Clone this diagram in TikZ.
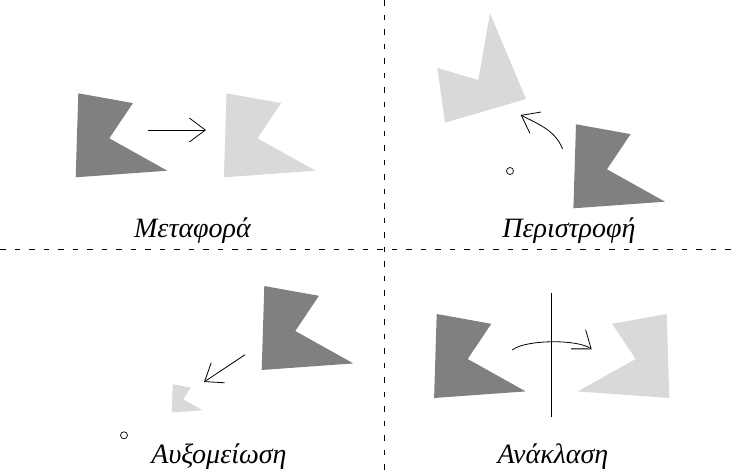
\documentclass[tikz,border=0pt]{standalone}
\usepackage{fontspec}
\setmainfont{Liberation Serif}
\usetikzlibrary{arrows.meta}
\definecolor{dkgray}{gray}{0.5}
\definecolor{ltgray}{gray}{0.85}
\begin{document}
\begin{tikzpicture}[x=1pt,y=-1pt,
  dkshape/.style={fill=dkgray},
  ltshape/.style={fill=ltgray},
  sep/.style={line width=0.8pt, dash pattern=on 5.5pt off 9pt},
  arr/.style={line width=0.8pt, -{Straight Barb[length=16pt,width=24pt,line width=0.8pt]}},
  lbl/.style={anchor=base, inner sep=0pt, font=\fontsize{28}{32}\selectfont\itshape},
  ctr/.style={circle, draw, line width=0.7pt, minimum size=7pt, inner sep=0pt}]
\useasboundingbox (0,0) rectangle (734,474);
\def\kpath{(0,0) -- (54.6,9.8) -- (31,45) -- (89,77.4) -- (-2.6,84) -- cycle}
% separators
\draw[sep] (0,249) -- (734,249);
\draw[sep] (384,0) -- (384,474);
% translation
\fill[dkshape, shift={(78.3,93.3)}] \kpath;
\fill[ltshape, shift={(226.5,93.3)}] \kpath;
\coordinate (t1) at (148.3,130);
\coordinate (t2) at (206,130);
\draw[arr] (t1) -- (t2);
\node[lbl] (lt) at (192.5,237.3) {Μεταφορά};
% rotation
\fill[dkshape, shift={(576,124.3)}] \kpath;
\fill[ltshape] (490,13.3) -- (526,99) -- (445,122.7) -- (437.3,68) -- (478.3,80) -- cycle;
\node[ctr] (rc) at (510,171) {};
\coordinate (r1) at (562.6,149);
\coordinate (r2) at (520.7,115);
\draw[arr] (r1) .. controls (555,130) and (538,124) .. (r2);
\node[lbl] (lr) at (569,237.3) {Περιστροφή};
% scaling
\fill[dkshape, shift={(264.3,286)}] \kpath;
\fill[ltshape, shift={(172.7,384.3)}, scale=0.335] \kpath;
\node[ctr] (sc) at (124,435.3) {};
\coordinate (s1) at (245,354.7);
\coordinate (s2) at (204,382);
\draw[arr] (s1) -- (s2);
\node[lbl] (ls) at (219,463.5) {Αυξομείωση};
% reflection
\fill[dkshape, shift={(436.7,314)}] \kpath;
\fill[ltshape, shift={(666.7,314)}, xscale=-1] \kpath;
\coordinate (m1) at (551.7,293.3);
\coordinate (m2) at (551.7,416.7);
\draw[line width=0.8pt] (m1) -- (m2);
\coordinate (f1) at (512.3,350);
\coordinate (f2) at (591.7,349.3);
\draw[arr] (f1) .. controls (525,339.5) and (578,339) .. (f2);
\node[lbl] (lf) at (553,463.5) {Ανάκλαση};
\end{tikzpicture}
\end{document}
